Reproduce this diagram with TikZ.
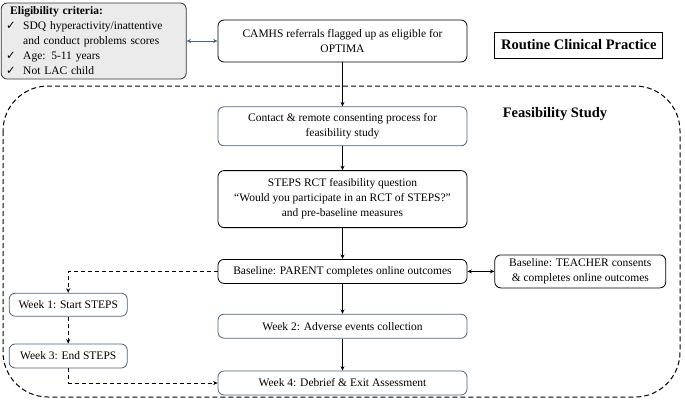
\documentclass[tikz,border=0pt]{standalone}
\usepackage{fontspec}
\setmainfont{Liberation Serif}
\newfontfamily\ticksym{DejaVu Sans}
\usepackage{tikz}
\usetikzlibrary{
  arrows.meta, % for Stealth arrow tips
  positioning, % for relative placement of the boxes
}
\definecolor{slate}{HTML}{4A6480}
\definecolor{panel}{HTML}{EBEBEB}
\newcommand{\tickmark}{\makebox[17pt][l]{{\ticksym ✓}}}
\tikzset{
  step box/.style={ % style for every flow box
    rectangle,draw,rounded corners=6pt, % rounded outline
    line width=0.8pt,
    minimum width=249pt, % all main boxes are equally wide
    inner sep=2pt,
    align=center,
    font=\fontsize{11.5}{15}\selectfont,
  },
  blue box/.style={ % boxes with a slate outline
    step box,
    draw=slate,
  },
  title/.style={ % bold headings
    font=\fontsize{14.5}{16}\selectfont\bfseries,
  },
  conn/.style={ % style for the solid connections
    -{Stealth[length=4.5pt,width=4pt]},
    line width=1pt,
  },
  dconn/.style={ % style for the dashed connections
    conn,
    dash pattern=on 4pt off 3pt,
  },
}

\begin{document}
\begin{tikzpicture}[node distance=30pt]
	\useasboundingbox (0pt,0pt) rectangle (685pt,-400pt);
	
	\node[step box, minimum height=42pt] (camhs) at (342.5pt,-41pt) {CAMHS referrals flagged up as eligible for\\OPTIMA};
	
	\node[step box, draw=black!80, fill=panel, minimum width=185pt, text width=175pt, minimum height=76pt, align=left, inner xsep=5pt] (elig) [left=31pt of camhs] {\hspace*{4pt}\textbf{Eligibility criteria:}\\\tickmark SDQ hyperactivity/inattentive\\\hspace*{17pt}and conduct problems scores\\\tickmark Age: 5-11 years\\\tickmark Not LAC child};
	
	\node[step box, rounded corners=0pt, minimum width=168pt, minimum height=26pt, title] (rcp) [right=27pt of camhs, yshift=-4pt] {Routine Clinical Practice};
	
	\node[blue box, minimum height=39pt] (contact) [below=44pt of camhs] {Contact \& remote consenting process for\\feasibility study};
	
	\node[step box, minimum height=57pt] (steps) [below=24pt of contact] {STEPS RCT feasibility question\\``Would you participate in an RCT of STEPS?''\\and pre-baseline measures};
	
	\node[step box, minimum height=24pt] (parent) [below=31pt of steps] {Baseline: PARENT completes online outcomes};
	
	\node[step box, minimum width=171pt, minimum height=33pt] (teacher) [right=27pt of parent] {Baseline: TEACHER consents\\\& completes online outcomes};
	
	\node[blue box, minimum height=24pt] (week2) [below=30pt of parent] {Week 2: Adverse events collection};
	
	\node[blue box, minimum height=24pt] (week4) [below=32pt of week2] {Week 4: Debrief \& Exit Assessment};
	
	\node[blue box, minimum width=118pt, minimum height=23pt] (week1) [below left=9pt and 90pt of parent.south west] {Week 1: Start STEPS};
	
	\node[blue box, minimum width=118pt, minimum height=24pt] (week3) [below=27pt of week1] {Week 3: End STEPS};
	
	% feasibility study frame
	\draw[line width=1pt, dash pattern=on 5pt off 3pt, rounded corners=45pt] (3pt,-86pt) rectangle (680pt,-397pt);
	\node[title] (feas) at (555pt,-114pt) {Feasibility Study};
	
	\draw[{Stealth[length=4.5pt,width=4pt]}-{Stealth[length=4.5pt,width=4pt]}, slate, line width=1pt] (elig) -- (camhs);
	\draw[conn] (camhs) -- (contact);
	\draw[conn] (contact) -- (steps);
	\draw[conn] (steps) -- (parent);
	\draw[conn] (parent) -- (week2);
	\draw[conn] (week2) -- (week4);
	\draw[conn, {Stealth[length=4.5pt,width=4pt]}-{Stealth[length=4.5pt,width=4pt]}] (parent) -- (teacher);
	
	\draw[dconn] (parent.west) -| (week1.north);
	\draw[dconn] (week1) -- (week3);
	\draw[dconn] (week3.south) |- (week4.west);
\end{tikzpicture}
\end{document}
